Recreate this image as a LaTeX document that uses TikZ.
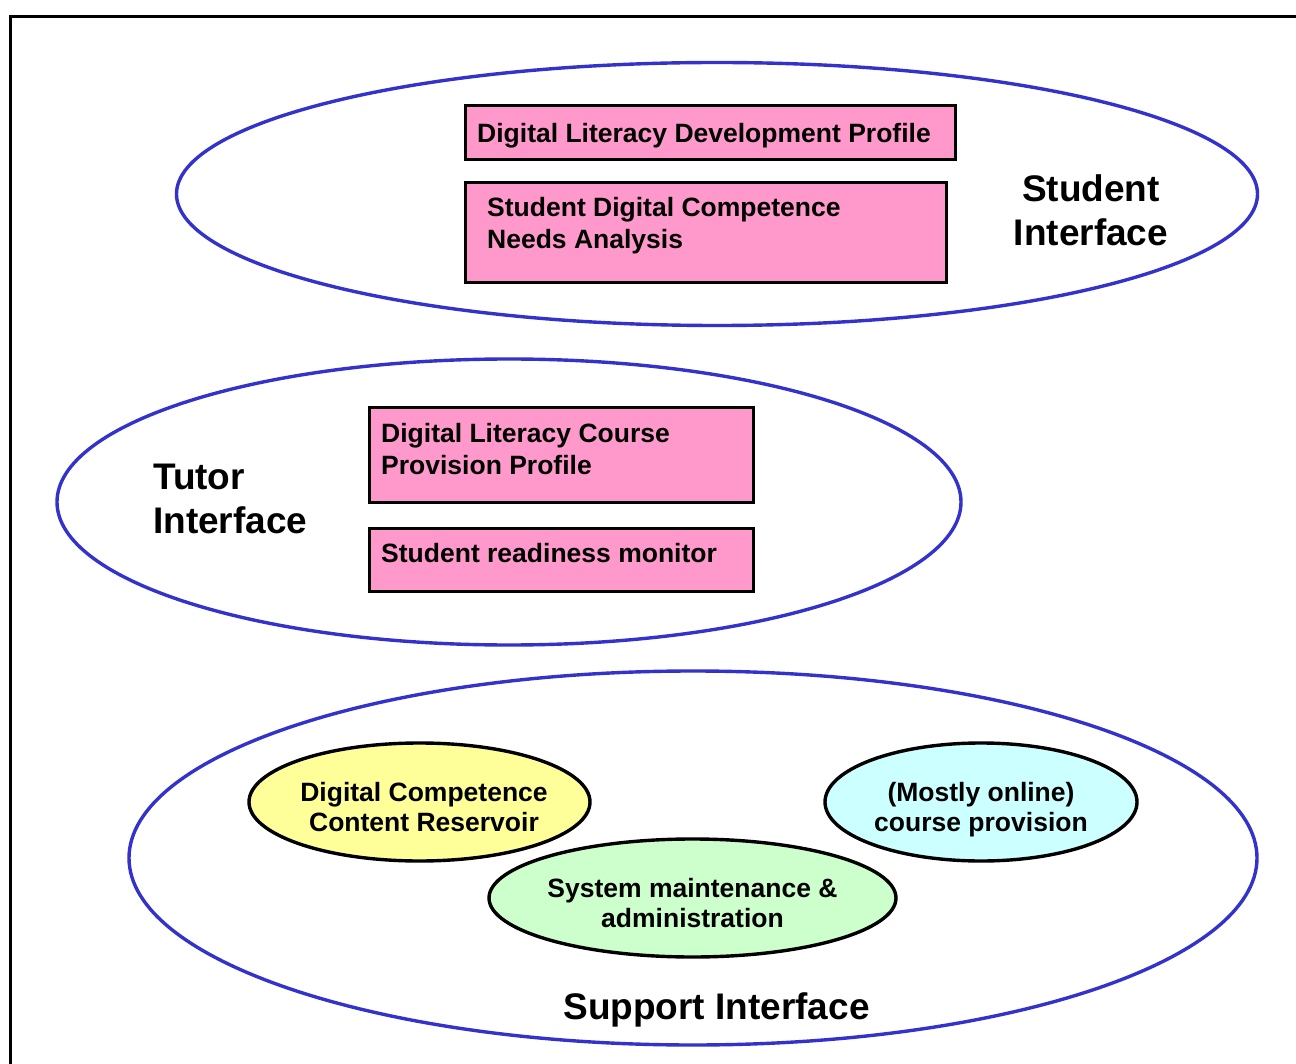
\documentclass[tikz,border=0pt]{standalone}
\usepackage{fontspec}
\setmainfont{Liberation Sans}
\usetikzlibrary{shapes.geometric}
\definecolor{ringblue}{HTML}{3333CC}
\definecolor{boxpink}{HTML}{FF99CC}
\definecolor{poolyellow}{HTML}{FFFF99}
\definecolor{poolcyan}{HTML}{CCFFFF}
\definecolor{poolgreen}{HTML}{CCFFCC}
\begin{document}
\begin{tikzpicture}[x=1pt,y=-1pt,
  ring/.style={draw=ringblue, line width=3.4pt, ellipse, inner sep=0pt},
  pinkbox/.style={draw=black, fill=boxpink, line width=3.4pt, rectangle, inner sep=0pt},
  bubble/.style={draw=black, line width=3.4pt, ellipse, inner sep=0pt},
  lbl/.style={font=\fontsize{26.5}{32}\selectfont\bfseries, inner sep=0pt},
  bublbl/.style={font=\fontsize{26.5}{30}\selectfont\bfseries, inner sep=0pt},
  biglbl/.style={font=\fontsize{37}{44}\selectfont\bfseries, inner sep=0pt}]
  \useasboundingbox (0,0) rectangle (1296,1064);
  \clip (0,0) rectangle (1296,1064);
  % outer frame
  \node[draw=black, line width=3pt, rectangle, inner sep=0pt, anchor=north west,
        minimum width=1320, minimum height=1080] (frame) at (9,15) {};

  % student interface (multi-line labels sit on the baseline of their last line)
  \node[ring, minimum width=1081, minimum height=263] (student) at (717,194) {};
  \node[pinkbox, anchor=north west, minimum width=490, minimum height=54] (dldp) at (464,104) {};
  \node[lbl, anchor=base west] (dldpt) at (477,143) {Digital Literacy Development Profile};
  \node[pinkbox, anchor=north west, minimum width=481, minimum height=100] (sdcna) at (464,181) {};
  \node[lbl, anchor=base west, align=left] (sdcnat) at (487,249) {Student Digital Competence\\Needs Analysis};
  \node[biglbl, anchor=base, align=center] (studentt) at (1091,246) {Student\\Interface};

  % tutor interface
  \node[ring, minimum width=904, minimum height=286] (tutor) at (509,502) {};
  \node[pinkbox, anchor=north west, minimum width=384, minimum height=95] (dlcpp) at (368,406) {};
  \node[lbl, anchor=base west, align=left] (dlcppt) at (381,474) {Digital Literacy Course\\Provision Profile};
  \node[pinkbox, anchor=north west, minimum width=384, minimum height=63] (srm) at (368,527) {};
  \node[lbl, anchor=base west] (srmt) at (381,562) {Student readiness monitor};
  \node[biglbl, anchor=base west, align=left] (tutort) at (153,533) {Tutor\\Interface};

  % support interface
  \node[ring, minimum width=1128, minimum height=374] (support) at (693,858) {};
  \node[bubble, fill=poolyellow, minimum width=341, minimum height=118] (dccr) at (419.5,802) {};
  \node[bublbl, anchor=base, align=center] (dccrt) at (424,831) {Digital Competence\\Content Reservoir};
  \node[bubble, fill=poolcyan, minimum width=312, minimum height=118] (mocp) at (981,802) {};
  \node[bublbl, anchor=base, align=center] (mocpt) at (981,831) {(Mostly online)\\course provision};
  \node[bubble, fill=poolgreen, minimum width=407, minimum height=118] (sma) at (692.5,898) {};
  \node[bublbl, anchor=base, align=center] (smat) at (692.5,927) {System maintenance \&\\administration};
  \node[biglbl, anchor=base] (supportt) at (716.5,1019) {Support Interface};
\end{tikzpicture}
\end{document}
